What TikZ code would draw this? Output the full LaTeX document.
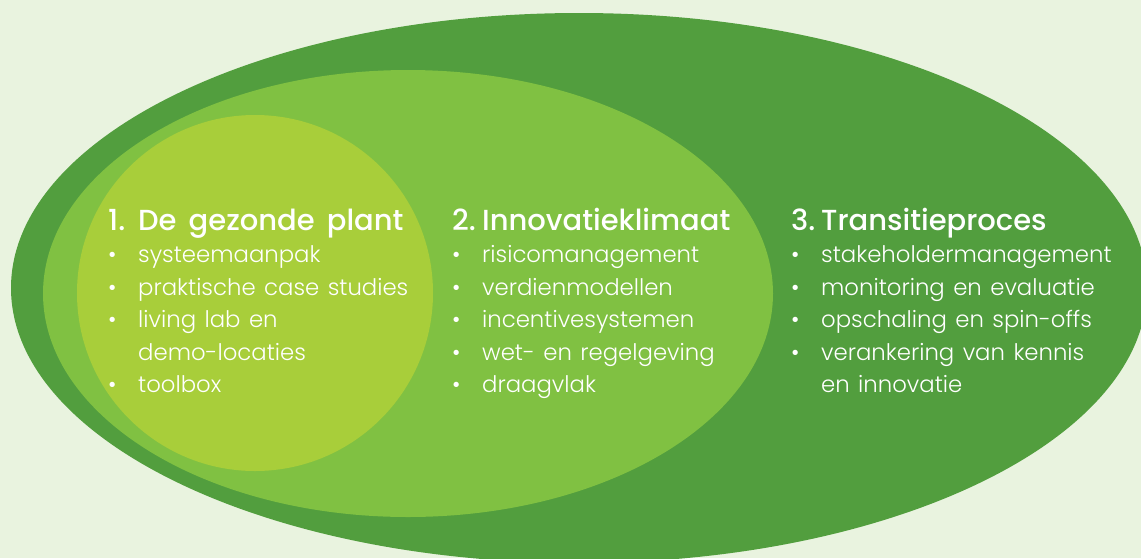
\documentclass[tikz,border=0pt]{standalone}
\usepackage{fontspec}
\setmainfont{Poppins Light}[WordSpace=1.35]
\newfontfamily\headfont{Poppins Medium}[WordSpace=1.6]
\usetikzlibrary{positioning}

\definecolor{mint}{RGB}{233,243,223}
\definecolor{leafdark}{RGB}{82,158,62}
\definecolor{leafmid}{RGB}{128,193,66}
\definecolor{leaflime}{RGB}{168,206,58}

\newcommand{\hd}[2]{{\headfont\fontsize{29}{32.5}\selectfont\makebox[30pt][l]{#1}#2}}
\newcommand{\itm}[1]{\makebox[30pt][l]{\textbullet}#1}
\newcommand{\cont}[1]{\makebox[30pt][l]{}#1}

\begin{document}
\begin{tikzpicture}[
  x=1pt, y=-1pt,
  list/.style={anchor=base west, inner sep=0pt, text=white, font=\fontsize{22.8}{32.5}\selectfont}
]
\fill[mint] (0,0) rectangle (1141,558);
\useasboundingbox (0,0) rectangle (1141,558);

\fill[leafdark] (579,288) ellipse [x radius=568, y radius=275];
\fill[leafmid] (408,293.5) ellipse [x radius=365, y radius=223.5];
\fill[leaflime] (255,293) circle [radius=178];

\node[list] (plant) at (108,230) {\begin{tabular}[t]{@{}l@{}}
  \hd{1.}{De gezonde plant}\\
  \itm{systeemaanpak}\\
  \itm{praktische case studies}\\
  \itm{living lab en}\\
  \cont{demo-locaties}\\
  \itm{toolbox}
\end{tabular}};
\node[list] (klimaat) at (452,230) {\begin{tabular}[t]{@{}l@{}}
  \hd{2.}{Innovatieklimaat}\\
  \itm{risicomanagement}\\
  \itm{verdienmodellen}\\
  \itm{incentivesystemen}\\
  \itm{wet- en regelgeving}\\
  \itm{draagvlak}
\end{tabular}};
\node[list] (transitie) at (791,230) {\begin{tabular}[t]{@{}l@{}}
  \hd{3.}{Transitieproces}\\
  \itm{stakeholdermanagement}\\
  \itm{monitoring en evaluatie}\\
  \itm{opschaling en spin-offs}\\
  \itm{verankering van kennis}\\
  \cont{en innovatie}
\end{tabular}};
\end{tikzpicture}
\end{document}
